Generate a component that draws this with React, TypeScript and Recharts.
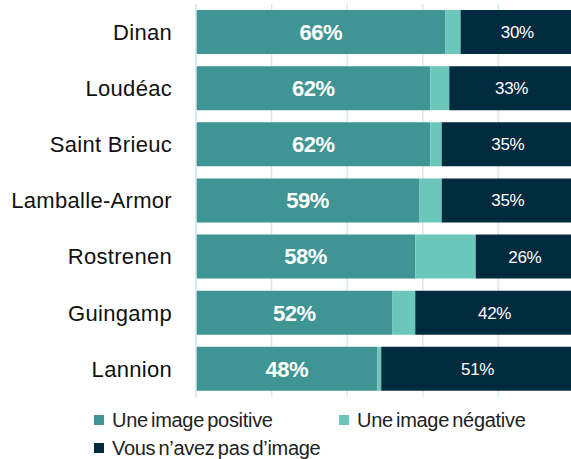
import { BarChart, Bar, XAxis, YAxis, CartesianGrid, Legend, LabelList } from 'recharts'

const communes = ['Dinan', 'Loudéac', 'Saint Brieuc', 'Lamballe-Armor', 'Rostrenen', 'Guingamp', 'Lannion']
const positive = [66, 62, 62, 59, 58, 52, 48]
const negative = [4, 5, 3, 6, 16, 6, 1]
const noImage = [30, 33, 35, 35, 26, 42, 51]
const xTicks = [0, 20, 40, 60, 80, 100]

const SERIES = [
  { key: 'positive', label: 'Une image positive', color: '#3f9494' },
  { key: 'negative', label: 'Une image négative', color: '#6cc7bb' },
  { key: 'noImage', label: 'Vous n\u2019avez pas d\u2019image', color: '#032b3f' },
]

const FONT = '"Liberation Sans", Arial, sans-serif'

const data = communes.map((name, i) => ({
  name,
  positive: positive[i],
  negative: negative[i],
  noImage: noImage[i],
}))

function LegendBox() {
  return (
    <div
      style={{
        display: 'grid',
        gridTemplateColumns: '245px 240px',
        rowGap: 4,
        paddingLeft: 94,
        paddingTop: 11,
        fontFamily: FONT,
        fontSize: 20,
        letterSpacing: -0.3,
        wordSpacing: -2,
        color: '#222',
      }}
    >
      {SERIES.map((s) => (
        <div key={s.key} style={{ display: 'flex', alignItems: 'center', height: 24 }}>
          <span style={{ width: 10, height: 10, background: s.color, marginRight: 8, display: 'inline-block' }} />
          {s.label}
        </div>
      ))}
    </div>
  )
}

export default function App() {
  return (
    <div style={{ position: 'absolute', left: 0, top: 0, width: 571, height: 459, overflow: 'hidden' }}>
      <BarChart
        width={580}
        height={459}
        layout="vertical"
        data={data}
        margin={{ top: 4, right: 6, left: 0, bottom: 0 }}
        barSize={44}
      >
        <CartesianGrid horizontal={false} stroke="#d3eaf7" strokeWidth={1.5} />
        <XAxis type="number" domain={[0, 100]} ticks={xTicks} hide />
        <YAxis
          type="category"
          dataKey="name"
          width={196}
          axisLine={{ stroke: '#d3eaf7', strokeWidth: 1.5 }}
          tickLine={false}
          tickMargin={18}
          tick={{ fontSize: 22, fill: '#111', fontFamily: FONT, letterSpacing: 0.3 }}
        />
        <Legend verticalAlign="bottom" height={62} content={() => <LegendBox />} />
        <Bar dataKey="positive" stackId="a" fill={SERIES[0].color} isAnimationActive={false}>
          <LabelList
            dataKey="positive"
            position="center"
            formatter={(v: unknown) => `${v}%`}
            style={{ fontSize: 22, fontWeight: 'bold', fill: '#fff', fontFamily: FONT, letterSpacing: -0.5 }}
          />
        </Bar>
        <Bar dataKey="negative" stackId="a" fill={SERIES[1].color} isAnimationActive={false} />
        <Bar dataKey="noImage" stackId="a" fill={SERIES[2].color} isAnimationActive={false}>
          <LabelList
            dataKey="noImage"
            position="center"
            formatter={(v: unknown) => `${v}%`}
            style={{ fontSize: 17, fill: '#fff', fontFamily: FONT, letterSpacing: -0.3 }}
          />
        </Bar>
      </BarChart>
    </div>
  )
}
